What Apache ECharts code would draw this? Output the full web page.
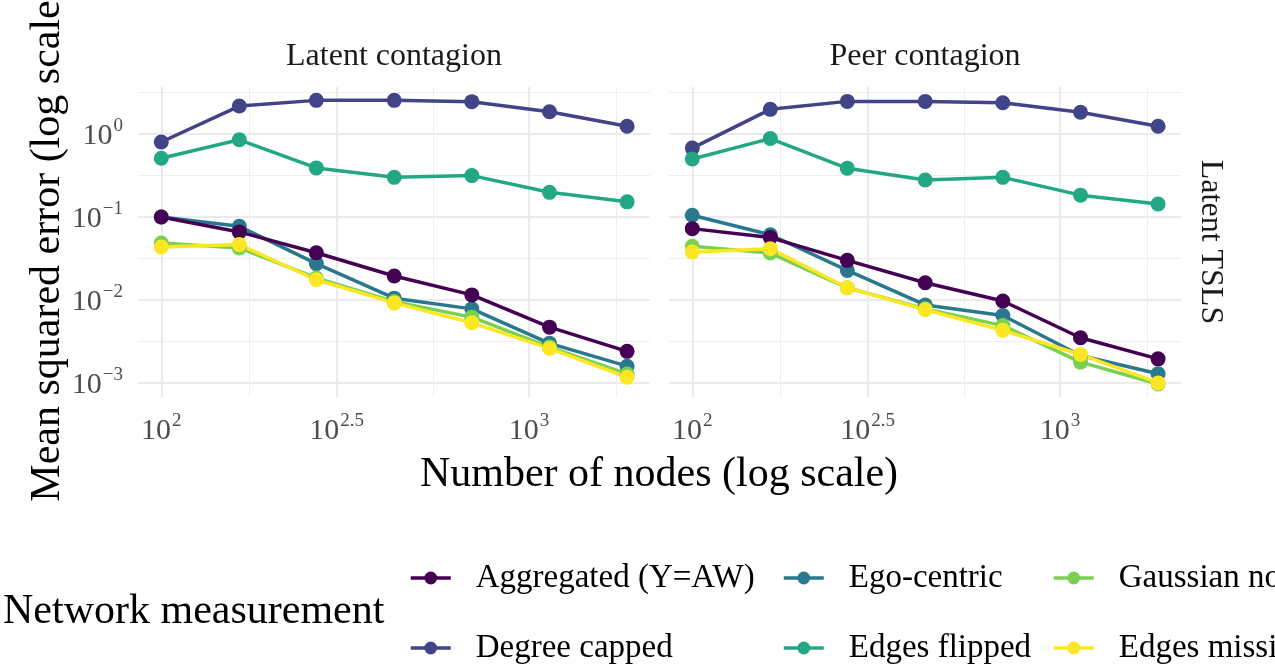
<!DOCTYPE html>
<html>
<head>
<meta charset="utf-8">
<script src="https://cdn.jsdelivr.net/npm/echarts@6/dist/echarts.min.js"></script>
<style>
html,body{margin:0;padding:0;background:#fff;}
#chart{width:1275px;height:668px;}
</style>
</head>
<body>
<div id="chart"></div>
<script>
// ---------- data ----------
const nodes = [100, 163, 264, 430, 699, 1137, 1848];
const panels = ['Latent contagion', 'Peer contagion'];
const rowStrip = 'Latent TSLS';
const seriesNames = ['Aggregated (Y=AW)', 'Degree capped', 'Ego-centric', 'Edges flipped', 'Gaussian noise', 'Edges missing'];
const seriesColors = ['#440154', '#414487', '#2A788E', '#22A884', '#7AD151', '#FDE725'];

// Latent contagion panel
const aggL   = [0.100, 0.066, 0.037, 0.0194, 0.0115, 0.0047, 0.0024];
const degL   = [0.80, 2.17, 2.54, 2.54, 2.45, 1.85, 1.24];
const egoL   = [0.100, 0.077, 0.0274, 0.0105, 0.0078, 0.0030, 0.00159];
const flipL  = [0.51, 0.85, 0.39, 0.30, 0.315, 0.198, 0.152];
const gaussL = [0.0486, 0.0423, 0.0184, 0.0095, 0.0062, 0.0027, 0.00128];
const missL  = [0.0435, 0.0464, 0.0175, 0.0092, 0.0053, 0.0026, 0.00117];
// Peer contagion panel
const aggR   = [0.0723, 0.0564, 0.030, 0.0161, 0.0097, 0.0035, 0.00195];
const degR   = [0.676, 1.98, 2.47, 2.47, 2.38, 1.83, 1.24];
const egoR   = [0.105, 0.061, 0.0227, 0.0087, 0.0065, 0.00214, 0.00129];
const flipR  = [0.50, 0.88, 0.386, 0.279, 0.30, 0.183, 0.143];
const gaussR = [0.0443, 0.0367, 0.0140, 0.0078, 0.0049, 0.00178, 0.00097];
const missR  = [0.0378, 0.0415, 0.0140, 0.0076, 0.0043, 0.0022, 0.0010];

// tick values (data units) and labels
const xMajorTicks = [100, 300, 1000];
const xMajorLabels = ['2', '2.5', '3'];
const xMinorTicks = [173.2, 547.7, 1732];
const yMajorTicks = [0.001, 0.01, 0.1, 1];
const yMajorLabels = ['\u22123', '\u22122', '\u22121', '0'];
const yMinorTicks = [0.00316, 0.0316, 0.316, 3.16];

const xTitle = 'Number of nodes (log scale)';
const yTitle = 'Mean squared error (log scale)';
const legendTitle = 'Network measurement';

// ---------- chart ----------
const FONT = 'Liberation Serif';
const L10 = Math.log10;
const panelData = [
  [aggL, degL, egoL, flipL, gaussL, missL],
  [aggR, degR, egoR, flipR, gaussR, missR]
];
const drawOrder = [2, 0, 1, 3, 4, 5];

const xMin = 1.9367, xMax = 3.329;
const yMin = -3.17, yMax = 0.566;

const grids = [
  {left: 138, top: 87, width: 512, height: 310},
  {left: 669, top: 87, width: 512, height: 310}
];

function near(a, b) { return Math.abs(a - b) < 1e-6; }
function xFmt(v) {
  for (let i = 0; i < xMajorTicks.length; i++) if (near(v, L10(xMajorTicks[i]))) return '{b|10}{e|' + xMajorLabels[i] + '}';
  return '';
}
function yFmt(v) {
  for (let i = 0; i < yMajorTicks.length; i++) if (near(v, L10(yMajorTicks[i]))) return '{b|10}{e|' + yMajorLabels[i] + '}';
  return '';
}
const rich = {
  b: {fontFamily: FONT, fontSize: 30, color: '#4D4D4D', lineHeight: 34, verticalAlign: 'bottom'},
  e: {fontFamily: FONT, fontSize: 19, color: '#4D4D4D', verticalAlign: 'top', padding: [0, 0, 0, 1]}
};

const xAxes = [], yAxes = [];
for (let g = 0; g < 2; g++) {
  xAxes.push({
    type: 'value', gridIndex: g, min: xMin, max: xMax,
    axisLine: {show: false},
    axisTick: {show: false, customValues: xMajorTicks.map(L10)},
    axisLabel: {show: true, customValues: xMajorTicks.map(L10), formatter: xFmt, rich: rich, margin: 15},
    splitLine: {show: true, lineStyle: {color: '#EBEBEB', width: 2}}
  });
  yAxes.push({
    type: 'value', gridIndex: g, min: yMin, max: yMax,
    axisLine: {show: false},
    axisTick: {show: false, customValues: yMajorTicks.map(L10)},
    axisLabel: {show: g === 0, customValues: yMajorTicks.map(L10), formatter: yFmt, rich: rich, margin: 15},
    splitLine: {show: true, lineStyle: {color: '#EBEBEB', width: 2}}
  });
}
for (let g = 0; g < 2; g++) {
  xAxes.push({
    type: 'value', gridIndex: g, min: xMin, max: xMax,
    axisLine: {show: false},
    axisTick: {show: false, customValues: xMinorTicks.map(L10)},
    axisLabel: {show: false, customValues: xMinorTicks.map(L10)},
    splitLine: {show: true, lineStyle: {color: '#EEEEEE', width: 1}}
  });
  yAxes.push({
    type: 'value', gridIndex: g, min: yMin, max: yMax,
    axisLine: {show: false},
    axisTick: {show: false, customValues: yMinorTicks.map(L10)},
    axisLabel: {show: false, customValues: yMinorTicks.map(L10)},
    splitLine: {show: true, lineStyle: {color: '#EEEEEE', width: 1}}
  });
}

const series = [];
for (let g = 0; g < 2; g++) {
  drawOrder.forEach(function (k) {
    series.push({
      type: 'line', name: seriesNames[k], xAxisIndex: g, yAxisIndex: g,
      data: nodes.map(function (n, i) { return [L10(n), L10(panelData[g][k][i])]; }),
      symbol: 'circle', symbolSize: 15, showSymbol: true,
      lineStyle: {color: seriesColors[k], width: 3.5},
      itemStyle: {color: seriesColors[k]},
      emphasis: {disabled: true}, animation: false, silent: true
    });
  });
}

function legendCol(names, left) {
  return {
    orient: 'vertical', left: left, top: 561, height: 107, padding: 0,
    data: names, itemWidth: 40, itemHeight: 16, itemGap: 36,
    selectedMode: false,
    lineStyle: {width: 3.5},
    textStyle: {fontFamily: FONT, fontSize: 33, color: '#000', lineHeight: 34, padding: [0, 0, 0, 20]}
  };
}

const txt = function (text, x, y, size, rot, align, color) {
  return {
    type: 'text', x: x, y: y, rotation: rot || 0, silent: true,
    style: {text: text, fontFamily: FONT, fontSize: size, fill: color || '#1A1A1A',
            align: align || 'center', verticalAlign: 'middle'}
  };
};

const option = {
  backgroundColor: '#ffffff',
  animation: false,
  grid: grids,
  xAxis: xAxes,
  yAxis: yAxes,
  series: series,
  legend: [
    legendCol([seriesNames[0], seriesNames[1]], 409),
    legendCol([seriesNames[2], seriesNames[3]], 782),
    legendCol([seriesNames[4], seriesNames[5]], 1052)
  ],
  graphic: [
    txt(panels[0], 394, 57, 32),
    txt(panels[1], 925, 57, 32),
    txt(rowStrip, 1210, 242, 32, -Math.PI / 2),
    txt(yTitle, 48, 244, 42, Math.PI / 2, 'center', '#000'),
    txt(xTitle, 659, 475, 42, 0, 'center', '#000'),
    txt(legendTitle, 3, 612, 42, 0, 'left', '#000')
  ]
};

const chart = echarts.init(document.getElementById('chart'), null, {renderer: 'canvas'});
chart.setOption(option);
</script>
</body>
</html>
